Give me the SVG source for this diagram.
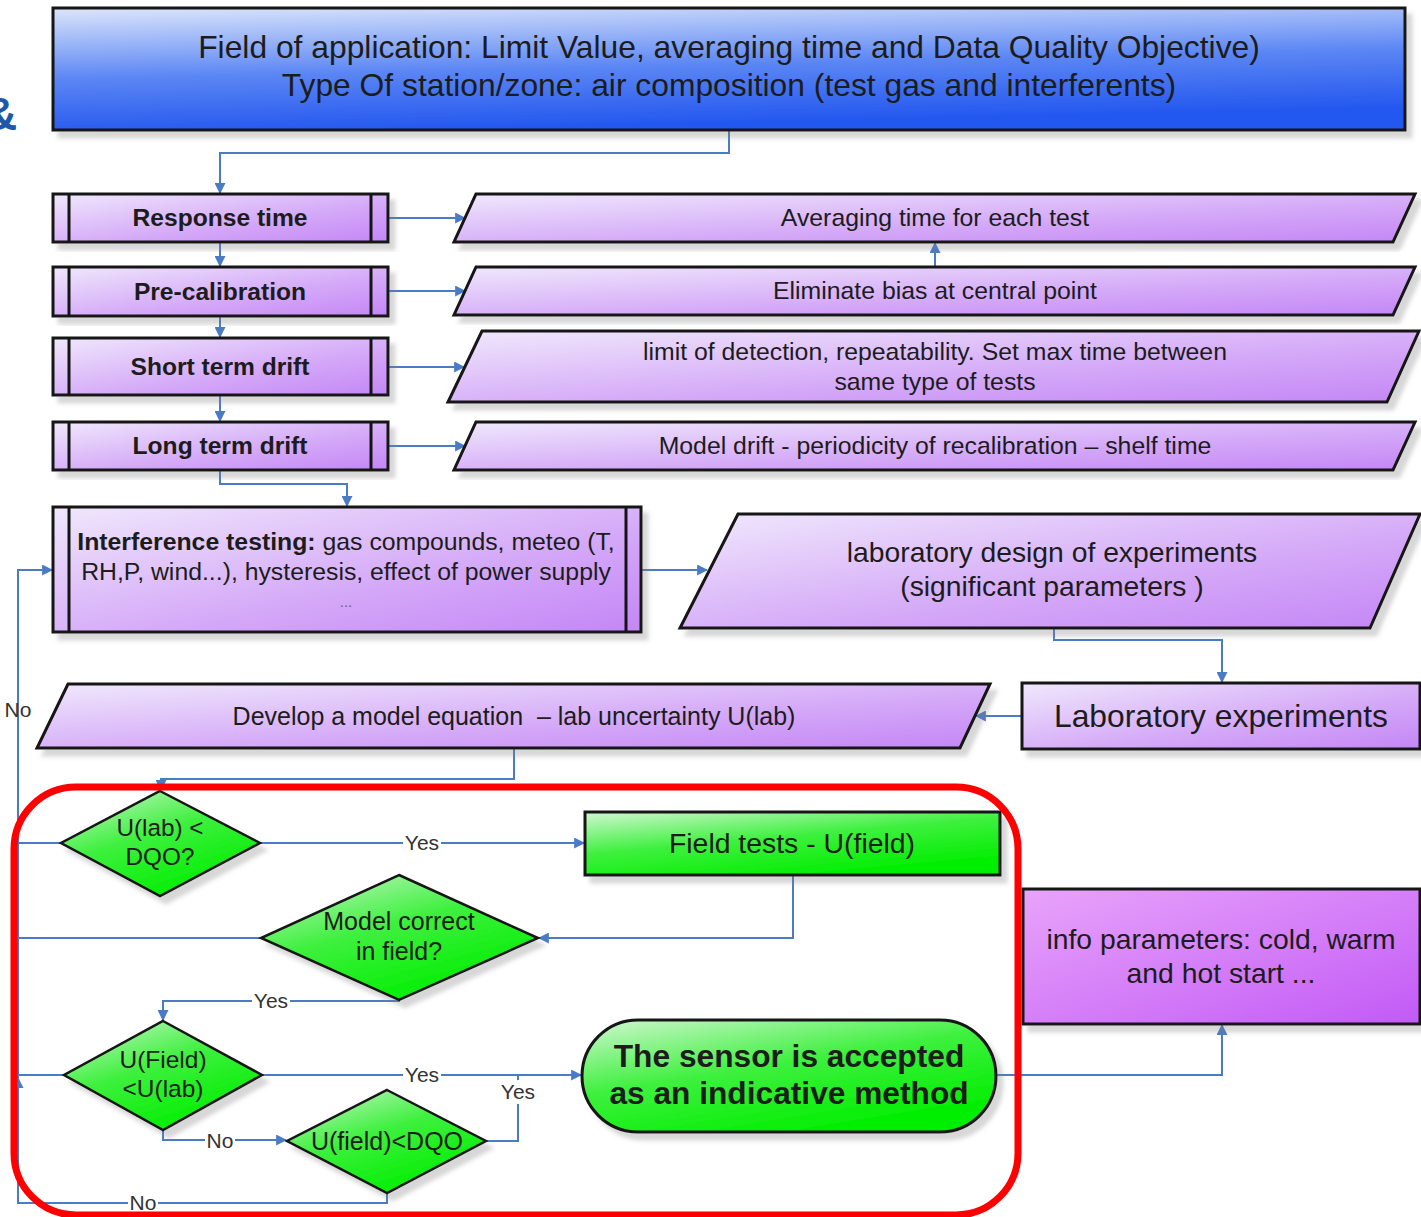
<svg xmlns="http://www.w3.org/2000/svg" width="1421" height="1217" viewBox="0 0 1421 1217">
<defs>
<linearGradient id="gBlue" x1="0" y1="0" x2="0.25" y2="1">
<stop offset="0" stop-color="#dce6fb"/><stop offset="0.55" stop-color="#5b86f4"/><stop offset="1" stop-color="#2458ef"/>
</linearGradient>
<linearGradient id="gPurp" x1="0" y1="0" x2="1" y2="1">
<stop offset="0" stop-color="#f0e8fc"/><stop offset="0.6" stop-color="#d4a8f8"/><stop offset="1" stop-color="#c486f6"/>
</linearGradient>
<linearGradient id="gPurp2" x1="0" y1="0" x2="1" y2="1">
<stop offset="0" stop-color="#e8a4fa"/><stop offset="1" stop-color="#c25af6"/>
</linearGradient>
<linearGradient id="gGreen" x1="0" y1="0" x2="0.6" y2="1">
<stop offset="0" stop-color="#d2f7d2"/><stop offset="0.5" stop-color="#3ef03e"/><stop offset="1" stop-color="#00ee00"/>
</linearGradient>
<filter id="sh" x="-5%" y="-10%" width="115%" height="130%">
<feDropShadow dx="6" dy="7" stdDeviation="2" flood-color="#7a7a7a" flood-opacity="0.3"/>
</filter>
<marker id="arr" viewBox="0 0 10 10" refX="9" refY="5" markerWidth="11" markerHeight="11" markerUnits="userSpaceOnUse" orient="auto">
<path d="M0,0 L10,5 L0,10 Z" fill="#4a7cc6"/>
</marker>
<style>
.box{stroke:#141414;stroke-width:3}
.dia{stroke:#141414;stroke-width:2.5}
.bar{stroke:#141414;stroke-width:3}
.t{font-family:"Liberation Sans",Arial,sans-serif;fill:#1c1c1c;text-anchor:middle}
.b{font-weight:bold}
.c{fill:none;stroke:#4a7cc6;stroke-width:2}
.ca{fill:none;stroke:#4a7cc6;stroke-width:2;marker-end:url(#arr)}
.lbl{font-family:"Liberation Sans",Arial,sans-serif;fill:#333;font-size:21px;text-anchor:middle}
.lb{fill:#fff}
</style>
</defs>
<rect width="1421" height="1217" fill="#fff"/>
<text x="-16" y="130" style="font-family:'Liberation Sans',Arial,sans-serif;font-weight:bold;font-size:46px;fill:#1f58a8">&amp;</text>

<g id="connectors">
<path class="ca" d="M729,130 V153 H220 V193"/>
<path class="ca" d="M220,242 V266"/>
<path class="ca" d="M220,316 V337"/>
<path class="ca" d="M220,395 V421"/>
<path class="ca" d="M220,470 V484 H347 V506"/>
<path class="ca" d="M388,218 H465"/>
<path class="ca" d="M388,291 H465"/>
<path class="ca" d="M388,367 H464"/>
<path class="ca" d="M388,446 H465"/>
<path class="ca" d="M935,267 V243"/>
<path class="ca" d="M641,570 H707"/>
<path class="ca" d="M1054,627 V640 H1222 V682"/>
<path class="ca" d="M1022,716 H976"/>
<path class="ca" d="M514,748 V779 H161 V790"/>
<path class="ca" d="M18,1080 V570 H52"/>
<path class="c" d="M61,843 H18"/>
<path class="ca" d="M260,843 H584"/>
<path class="ca" d="M793,875 V938 H539"/>
<path class="c" d="M261,938 H18"/>
<path class="ca" d="M399,1000 V1001 H163 V1020"/>
<path class="c" d="M64,1075 H18"/>
<path class="ca" d="M262,1075 H581"/>
<path class="ca" d="M163,1130 V1140 H286"/>
<path class="c" d="M486,1141 H518 V1075"/>
<path class="ca" d="M387,1193 V1203 H18 V1078"/>
<path class="ca" d="M996,1075 H1222 V1025"/>
<text class="lbl" x="18" y="717">No</text>
<rect class="lb" x="403" y="831" width="38" height="24"/><text class="lbl" x="422" y="850">Yes</text>
<rect class="lb" x="252" y="989" width="38" height="24"/><text class="lbl" x="271" y="1008">Yes</text>
<rect class="lb" x="403" y="1063" width="38" height="24"/><text class="lbl" x="422" y="1082">Yes</text>
<rect class="lb" x="499" y="1080" width="38" height="24"/><text class="lbl" x="518" y="1099">Yes</text>
<rect class="lb" x="205" y="1129" width="30" height="24"/><text class="lbl" x="220" y="1148">No</text>
<rect class="lb" x="128" y="1191" width="30" height="24"/><text class="lbl" x="143" y="1210">No</text>
</g>

<g id="n-field">
<rect class="box" x="53" y="8" width="1352" height="122" fill="url(#gBlue)" filter="url(#sh)"/>
<text class="t" x="729" y="58" font-size="31.8">Field of application: Limit Value, averaging time and Data Quality Objective)</text>
<text class="t" x="729" y="96" font-size="31.8">Type Of station/zone: air composition (test gas and interferents)</text>
</g>

<g id="n-response">
<rect class="box" x="53" y="194" width="335" height="48" fill="url(#gPurp)" filter="url(#sh)"/>
<line class="bar" x1="69" y1="194" x2="69" y2="242"/><line class="bar" x1="371" y1="194" x2="371" y2="242"/>
<text class="t b" x="220" y="226" font-size="24.6">Response time</text>
</g>
<g id="n-precal">
<rect class="box" x="53" y="267" width="335" height="49" fill="url(#gPurp)" filter="url(#sh)"/>
<line class="bar" x1="69" y1="267" x2="69" y2="316"/><line class="bar" x1="371" y1="267" x2="371" y2="316"/>
<text class="t b" x="220" y="300" font-size="24.6">Pre-calibration</text>
</g>
<g id="n-short">
<rect class="box" x="53" y="338" width="335" height="57" fill="url(#gPurp)" filter="url(#sh)"/>
<line class="bar" x1="69" y1="338" x2="69" y2="395"/><line class="bar" x1="371" y1="338" x2="371" y2="395"/>
<text class="t b" x="220" y="375" font-size="24.6">Short term drift</text>
</g>
<g id="n-long">
<rect class="box" x="53" y="422" width="335" height="48" fill="url(#gPurp)" filter="url(#sh)"/>
<line class="bar" x1="69" y1="422" x2="69" y2="470"/><line class="bar" x1="371" y1="422" x2="371" y2="470"/>
<text class="t b" x="220" y="454" font-size="24.6">Long term drift</text>
</g>

<g id="n-averaging">
<polygon class="box" points="476,194 1415,194 1393,242 454,242" fill="url(#gPurp)" filter="url(#sh)"/>
<text class="t" x="935" y="226" font-size="24.8">Averaging time for each test</text>
</g>
<g id="n-bias">
<polygon class="box" points="476,267 1415,267 1393,315 454,315" fill="url(#gPurp)" filter="url(#sh)"/>
<text class="t" x="935" y="299" font-size="24.8">Eliminate bias at central point</text>
</g>
<g id="n-lod">
<polygon class="box" points="482,331 1419,331 1387,402 448,402" fill="url(#gPurp)" filter="url(#sh)"/>
<text class="t" x="935" y="360" font-size="24.8">limit of detection, repeatability. Set max time between</text>
<text class="t" x="935" y="390" font-size="24.8">same type of tests</text>
</g>
<g id="n-modeldrift">
<polygon class="box" points="476,422 1415,422 1393,470 454,470" fill="url(#gPurp)" filter="url(#sh)"/>
<text class="t" x="935" y="454" font-size="24.8">Model drift - periodicity of recalibration – shelf time</text>
</g>

<g id="n-interference">
<rect class="box" x="53" y="507" width="588" height="125" fill="url(#gPurp)" filter="url(#sh)"/>
<line class="bar" x1="69" y1="507" x2="69" y2="632"/><line class="bar" x1="626" y1="507" x2="626" y2="632"/>
<text class="t" x="346" y="550" font-size="24.8"><tspan font-weight="bold">Interference testing:</tspan> gas compounds, meteo (T,</text>
<text class="t" x="346" y="580" font-size="24.8">RH,P, wind...), hysteresis, effect of power supply</text>
<text class="t" x="346" y="607" font-size="15" style="fill:#666">...</text>
</g>

<g id="n-labdesign">
<polygon class="box" points="738,514 1420,514 1370,628 680,628" fill="url(#gPurp)" filter="url(#sh)"/>
<text class="t" x="1052" y="562" font-size="28.3">laboratory design of experiments</text>
<text class="t" x="1052" y="596" font-size="28.3">(significant parameters )</text>
</g>

<g id="n-labexp">
<rect class="box" x="1022" y="683" width="398" height="66" fill="url(#gPurp)" filter="url(#sh)"/>
<text class="t" x="1221" y="727" font-size="31.8">Laboratory experiments</text>
</g>

<g id="n-develop">
<polygon class="box" points="68,684 990,684 960,748 37,748" fill="url(#gPurp)" filter="url(#sh)"/>
<text class="t" x="514" y="725" font-size="25">Develop a model equation &#160;– lab uncertainty U(lab)</text>
</g>

<g id="n-d1">
<polygon class="dia" points="160,791 260,843 160,896 61,843" fill="url(#gGreen)" filter="url(#sh)"/>
<text class="t" x="160" y="836" font-size="24.3">U(lab) &lt;</text>
<text class="t" x="160" y="865" font-size="24.3">DQO?</text>
</g>

<g id="n-fieldtests">
<rect class="box" x="585" y="812" width="415" height="63" fill="url(#gGreen)" filter="url(#sh)"/>
<text class="t" x="792" y="853" font-size="28.4">Field tests - U(field)</text>
</g>

<g id="n-d2">
<polygon class="dia" points="399,875 538,938 399,1000 261,938" fill="url(#gGreen)" filter="url(#sh)"/>
<text class="t" x="399" y="930" font-size="25">Model correct</text>
<text class="t" x="399" y="960" font-size="25">in field?</text>
</g>

<g id="n-d3">
<polygon class="dia" points="163,1021 262,1075 163,1130 64,1075" fill="url(#gGreen)" filter="url(#sh)"/>
<text class="t" x="163" y="1068" font-size="24.5">U(Field)</text>
<text class="t" x="163" y="1097" font-size="24.5">&lt;U(lab)</text>
</g>

<g id="n-d4">
<polygon class="dia" points="387,1090 486,1141 387,1193 287,1141" fill="url(#gGreen)" filter="url(#sh)"/>
<text class="t" x="387" y="1150" font-size="25">U(field)&lt;DQO</text>
</g>

<g id="n-accepted">
<rect class="box" x="582" y="1020" width="414" height="112" rx="56" ry="56" fill="url(#gGreen)" filter="url(#sh)"/>
<text class="t b" x="789" y="1067" font-size="31.7">The sensor is accepted</text>
<text class="t b" x="789" y="1104" font-size="31.7">as an indicative method</text>
</g>

<g id="n-info">
<rect class="box" x="1023" y="889" width="397" height="135" fill="url(#gPurp2)" filter="url(#sh)"/>
<text class="t" x="1221" y="949" font-size="28.3">info parameters: cold, warm</text>
<text class="t" x="1221" y="983" font-size="28.3">and hot start ...</text>
</g>

<g id="highlight">
<rect x="14" y="787" width="1004" height="428" rx="62" ry="62" fill="none" stroke="#ff0000" stroke-width="7"/>
</g>
</svg>
